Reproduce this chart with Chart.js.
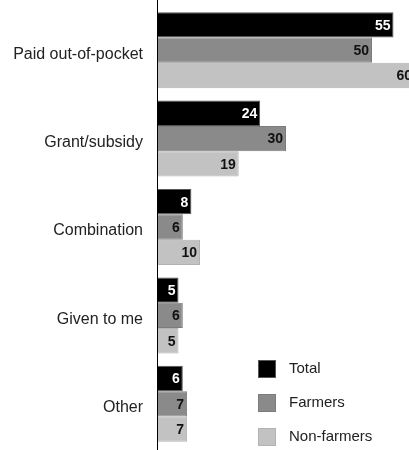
<!DOCTYPE html>
<html>
<head>
<meta charset="utf-8">
<script src="https://cdn.jsdelivr.net/npm/chart.js@4"></script>
<style>
  html, body { margin: 0; padding: 0; background: #fff; overflow: hidden; }
  #wrap { width: 415px; height: 450px; }
</style>
</head>
<body>
<div id="wrap"><canvas id="chart" width="415" height="450"></canvas></div>
<script>
const categories = ["Paid out-of-pocket", "Grant/subsidy", "Combination", "Given to me", "Other"];
const seriesNames = ["Total", "Farmers", "Non-farmers"];
const totalValues = [55, 24, 8, 5, 6];
const farmerValues = [50, 30, 6, 6, 7];
const nonFarmerValues = [60, 19, 10, 5, 7];

const FONT = "'Liberation Sans Narrow', 'Arial Narrow', 'Liberation Sans', sans-serif";
const fills = ["#000000", "#8a8a8a", "#c2c2c2"];
const borders = ["#555555", "#7c7c7c", "#b2b2b2"];
const labelColors = ["#ffffff", "#111111", "#111111"];

// value labels inside the bar ends
const valueLabels = {
    id: "valueLabels",
    afterDatasetsDraw(chart) {
        const ctx = chart.ctx;
        ctx.save();
        ctx.font = "bold 14px " + FONT;
        ctx.textAlign = "right";
        ctx.textBaseline = "middle";
        chart.data.datasets.forEach((ds, i) => {
            chart.getDatasetMeta(i).data.forEach((bar, j) => {
                ctx.fillStyle = labelColors[i];
                ctx.fillText(String(ds.data[j]), bar.x - 3, bar.y + 1);
            });
        });
        ctx.restore();
    }
};

// full-height axis line + legend in the lower right corner
const cornerLegend = {
    id: "cornerLegend",
    afterDraw(chart) {
        const ctx = chart.ctx;
        ctx.save();
        const x = Math.round(chart.chartArea.left) + 0.5;
        ctx.strokeStyle = "#000";
        ctx.lineWidth = 1;
        ctx.beginPath();
        ctx.moveTo(x, 0);
        ctx.lineTo(x, chart.height);
        ctx.stroke();

        ctx.font = "15px " + FONT;
        ctx.textBaseline = "middle";
        seriesNames.forEach((name, i) => {
            const y = 360 + i * 34;
            ctx.fillStyle = fills[i];
            ctx.fillRect(258, y, 18, 18);
            ctx.strokeStyle = borders[i];
            ctx.strokeRect(258.5, y + 0.5, 17, 17);
            ctx.fillStyle = "#222";
            ctx.fillText(name, 289, y + 9);
        });
        ctx.restore();
    }
};

new Chart(document.getElementById("chart"), {
    type: "bar",
    data: {
        labels: categories,
        datasets: [
            { label: seriesNames[0], data: totalValues },
            { label: seriesNames[1], data: farmerValues },
            { label: seriesNames[2], data: nonFarmerValues },
        ].map((ds, i) => ({
            ...ds,
            backgroundColor: fills[i],
            borderColor: borders[i],
            borderWidth: 1,
            barPercentage: 1,
            categoryPercentage: 0.86,
        })),
    },
    options: {
        indexAxis: "y",
        responsive: false,
        animation: false,
        layout: { padding: { top: 6, bottom: 2, left: 0, right: 0 } },
        plugins: {
            legend: { display: false },
            tooltip: { enabled: false },
        },
        scales: {
            x: {
                display: false,
                min: 0,
                max: 60,
            },
            y: {
                afterFit(scale) {
                    scale.width = 157;
                    scale.paddingTop = 0;
                    scale.paddingBottom = 0;
                },
                grid: { display: false, drawTicks: false },
                border: { display: false },
                ticks: {
                    padding: 14,
                    labelOffset: 4,
                    color: "#222",
                    font: { family: FONT, size: 16 },
                },
            },
        },
    },
    plugins: [valueLabels, cornerLegend],
});
</script>
</body>
</html>
